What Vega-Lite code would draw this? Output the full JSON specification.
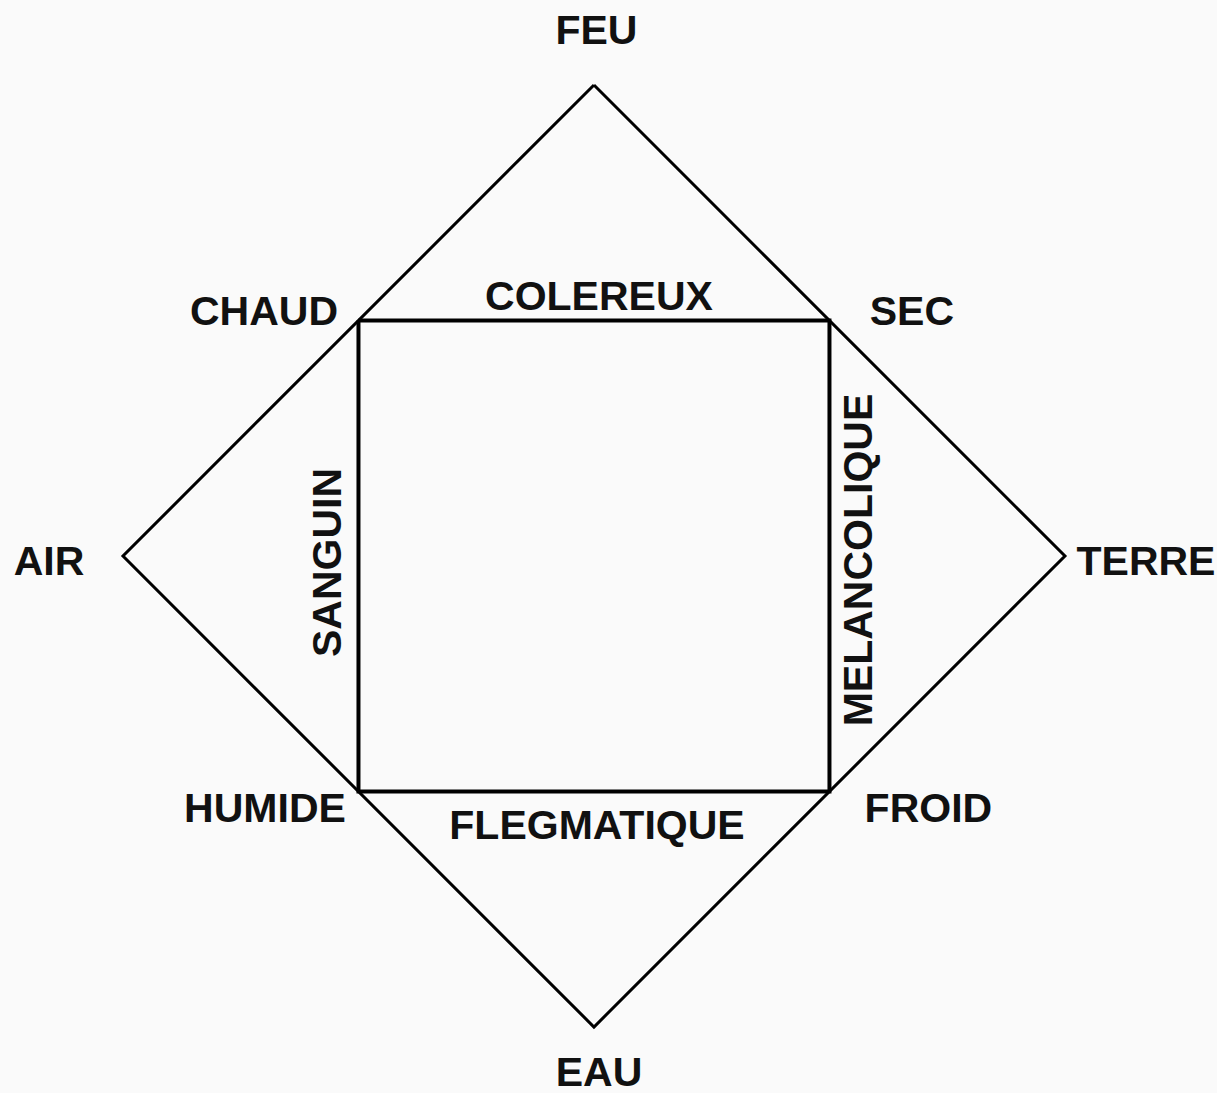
{
  "$schema": "https://vega.github.io/schema/vega-lite/v6.json",
  "autosize": {"type": "none"},
  "width": 1217,
  "height": 1093,
  "padding": 0,
  "background": "#fafafa",
  "config": {"view": {"stroke": null}},
  "datasets": {
    "shapes": [
      {"shape": "diamond", "order": 0, "x": 0, "y": 1},
      {"shape": "diamond", "order": 1, "x": 1, "y": 0},
      {"shape": "diamond", "order": 2, "x": 0, "y": -1},
      {"shape": "diamond", "order": 3, "x": -1, "y": 0},
      {"shape": "diamond", "order": 4, "x": 0, "y": 1},
      {"shape": "square", "order": 0, "x": -0.5, "y": 0.5},
      {"shape": "square", "order": 1, "x": 0.5, "y": 0.5},
      {"shape": "square", "order": 2, "x": 0.5, "y": -0.5},
      {"shape": "square", "order": 3, "x": -0.5, "y": -0.5},
      {"shape": "square", "order": 4, "x": -0.5, "y": 0.5}
    ],
    "labels": [
      {"label": "FEU", "kind": "element", "x": 0.0053, "y": 1.1115},
      {"label": "EAU", "kind": "element", "x": 0.0106, "y": -1.1005},
      {"label": "AIR", "kind": "element", "x": -1.157, "y": -0.0138},
      {"label": "TERRE", "kind": "element", "x": 1.172, "y": -0.0138},
      {"label": "CHAUD", "kind": "quality", "x": -0.7006, "y": 0.517},
      {"label": "SEC", "kind": "quality", "x": 0.675, "y": 0.517},
      {"label": "HUMIDE", "kind": "quality", "x": -0.6985, "y": -0.5403},
      {"label": "FROID", "kind": "quality", "x": 0.71, "y": -0.5403},
      {"label": "COLEREUX", "kind": "humour", "x": 0.0106, "y": 0.5488},
      {"label": "FLEGMATIQUE", "kind": "humour", "x": 0.0064, "y": -0.5764},
      {"label": "SANGUIN", "kind": "humour-side", "x": -0.5626, "y": -0.0138},
      {"label": "MELANCOLIQUE", "kind": "humour-side", "x": 0.5658, "y": -0.0085}
    ]
  },
  "encoding": {
    "x": {"field": "x", "type": "quantitative", "scale": {"domain": [-1.2611, 1.3228], "nice": false, "zero": false}, "axis": null},
    "y": {"field": "y", "type": "quantitative", "scale": {"domain": [-1.1401, 1.1805], "nice": false, "zero": false}, "axis": null}
  },
  "layer": [
    {
      "data": {"name": "shapes"},
      "transform": [{"filter": "datum.shape == 'diamond'"}],
      "mark": {"type": "line", "color": "#000000", "strokeWidth": 3, "strokeJoin": "miter"},
      "encoding": {"order": {"field": "order", "type": "quantitative"}, "detail": {"field": "shape"}}
    },
    {
      "data": {"name": "shapes"},
      "transform": [{"filter": "datum.shape == 'square'"}],
      "mark": {"type": "line", "color": "#000000", "strokeWidth": 4, "strokeJoin": "miter"},
      "encoding": {"order": {"field": "order", "type": "quantitative"}, "detail": {"field": "shape"}}
    },
    {
      "data": {"name": "labels"},
      "transform": [{"filter": "datum.kind != 'humour-side'"}],
      "mark": {"type": "text", "font": "Liberation Sans", "fontWeight": "bold", "fontSize": 41, "color": "#111111", "align": "center", "baseline": "middle"},
      "encoding": {"text": {"field": "label"}}
    },
    {
      "data": {"name": "labels"},
      "transform": [{"filter": "datum.kind == 'humour-side'"}],
      "mark": {"type": "text", "font": "Liberation Sans", "fontWeight": "bold", "fontSize": 41, "color": "#111111", "align": "center", "baseline": "middle", "angle": 270},
      "encoding": {"text": {"field": "label"}}
    }
  ]
}
